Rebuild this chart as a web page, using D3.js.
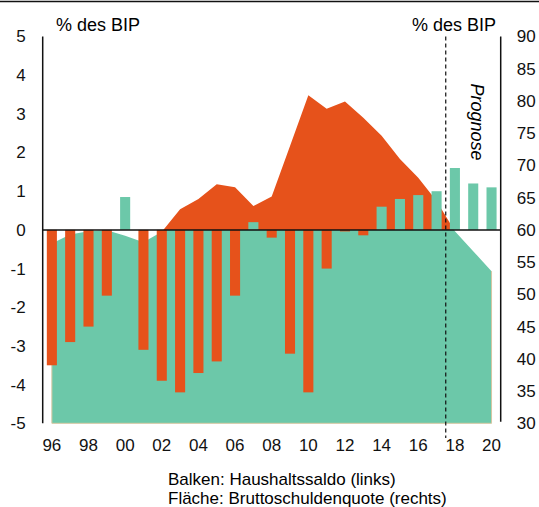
<!DOCTYPE html>
<html>
<head>
<meta charset="utf-8">
<script src="https://cdn.jsdelivr.net/npm/d3@7"></script>
<style>
    body { margin: 0; background: #fff; }
    svg { display: block; font-family: 'Liberation Sans', Arial, sans-serif; }
    .ticklabel { font-size: 17px; fill: #111; }
</style>
</head>
<body>
<div id="chart"></div>
<script>
'use strict';
// Haushaltssaldo (bars, left axis) and Bruttoschuldenquote (area, right axis)
const years = d3.range(1996, 2021)
const saldo = [-3.5, -2.9, -2.5, -1.7, 0.85, -3.1, -3.9, -4.2, -3.7, -3.4, -1.7, 0.2, -0.2,
    -3.2, -4.2, -1.0, -0.04, -0.14, 0.6, 0.8, 0.9, 1.0, 1.6, 1.2, 1.1]
const schulden = [57.9, 59.3, 59.8, 59.95, 59.1, 58.1, 59.7, 63.2, 64.8, 67.1, 66.6, 63.7, 65.2,
    73.0, 80.9, 78.8, 79.9, 77.4, 74.6, 71.0, 68.1, 64.5, 59.8, 56.7, 53.6]
const leftTicks = [-5, -4, -3, -2, -1, 0, 1, 2, 3, 4, 5]
const rightTicks = [30, 35, 40, 45, 50, 55, 60, 65, 70, 75, 80, 85, 90]
const xLabelYears = d3.range(1996, 2021, 2)
const prognoseFrom = 2018

const orange = '#e6521b'
const green = '#6cc8a9'

const W = 539, H = 507
const plot = { left: 42.7, right: 500.7, top: 36.5, bottom: 423.3 }

const svg = d3.select('#chart').append('svg')
    .attr('width', W)
    .attr('height', H)

const x = d3.scaleBand()
    .domain(years)
    .range([plot.left, plot.right])
    .paddingInner(0.45)
    .paddingOuter(0.225)
const xc = d => x(d) + x.bandwidth() / 2
const yL = d3.scaleLinear().domain([-5, 5]).range([plot.bottom, plot.top])
const yR = d3.scaleLinear().domain([30, 90]).range([plot.bottom, plot.top])

const areaData = years.map((yr, i) => ({ yr: yr, v: schulden[i] }))
const barData = years.map((yr, i) => ({ yr: yr, v: saldo[i] }))

const defs = svg.append('defs')
defs.append('clipPath').attr('id', 'below') // green part below 60 %
    .append('rect')
    .attr('x', 0).attr('y', yL(0)).attr('width', W).attr('height', H)
defs.append('clipPath').attr('id', 'above') // orange part above 60 %
    .append('rect')
    .attr('x', 0).attr('y', 0).attr('width', W).attr('height', yL(0))

const area = d3.area()
    .x(d => xc(d.yr))
    .y0(yR(30))
    .y1(d => yR(d.v))

svg.append('path').datum(areaData) // Debt ratio area, lower part
    .attr('clip-path', 'url(#below)')
    .attr('fill', green)
    .attr('d', area)
svg.append('path').datum(areaData) // Debt ratio area, upper part
    .attr('clip-path', 'url(#above)')
    .attr('fill', orange)
    .attr('d', area)

const first = areaData[0], last = areaData[areaData.length - 1]
svg.append('path') // thin beige rim on sides and bottom of the area
    .attr('fill', 'none')
    .attr('stroke', '#d6c7a2')
    .attr('stroke-width', 1)
    .attr('d', d3.line()([
        [xc(first.yr), yR(first.v)], [xc(first.yr), yR(30)],
        [xc(last.yr), yR(30)], [xc(last.yr), yR(last.v)]
    ]))

svg.append('g').selectAll('rect') // Budget balance bars
    .data(barData).enter().append('rect')
    .attr('x', d => x(d.yr))
    .attr('width', x.bandwidth())
    .attr('y', d => yL(Math.max(0, d.v)))
    .attr('height', d => Math.abs(yL(d.v) - yL(0)))
    .attr('fill', d => d.v >= 0 ? green : orange)

svg.append('line') // zero line
    .attr('x1', plot.left).attr('x2', plot.right)
    .attr('y1', yL(0)).attr('y2', yL(0))
    .attr('stroke', '#111').attr('stroke-width', 1.5)
svg.append('line') // left axis line
    .attr('x1', plot.left).attr('x2', plot.left)
    .attr('y1', plot.top).attr('y2', plot.bottom)
    .attr('stroke', '#111').attr('stroke-width', 1.5)
svg.append('line') // right axis line
    .attr('x1', plot.right).attr('x2', plot.right)
    .attr('y1', plot.top).attr('y2', plot.bottom - 1.5)
    .attr('stroke', '#111').attr('stroke-width', 1.5)

const xSplit = (xc(prognoseFrom - 1) + xc(prognoseFrom)) / 2
svg.append('line') // forecast divider
    .attr('x1', xSplit).attr('x2', xSplit)
    .attr('y1', plot.top).attr('y2', 438)
    .attr('stroke', '#111').attr('stroke-width', 1.2)
    .attr('stroke-dasharray', '4,3')

const leftAxis = svg.append('g')
    .attr('transform', `translate(${plot.left},0)`)
    .call(d3.axisLeft(yL).tickValues(leftTicks).tickSize(0).tickPadding(17)
        .tickFormat(d => String(d)))
const rightAxis = svg.append('g')
    .attr('transform', `translate(${plot.right},0)`)
    .call(d3.axisRight(yR).tickValues(rightTicks).tickSize(0).tickPadding(16))
const bottomAxis = svg.append('g')
    .attr('transform', `translate(0,${plot.bottom + 16})`)
    .call(d3.axisBottom(x).tickValues(xLabelYears).tickSize(0).tickPadding(0)
        .tickFormat(d => String(d).slice(2)))
;[leftAxis, rightAxis, bottomAxis].forEach(g => {
    g.select('.domain').remove()
    g.selectAll('text').attr('class', 'ticklabel').attr('font-family', null).attr('font-size', null)
})

svg.append('line') // top rule
    .attr('x1', 0).attr('x2', W)
    .attr('y1', 1.5).attr('y2', 1.5)
    .attr('stroke', '#111').attr('stroke-width', 1.5)

svg.append('text') // left unit label
    .attr('x', 56).attr('y', 30.5)
    .style('font-size', '18px')
    .text('% des BIP')
svg.append('text') // right unit label
    .attr('x', 496).attr('y', 30.5)
    .style('font-size', '18px')
    .style('text-anchor', 'end')
    .text('% des BIP')

svg.append('text') // Prognose label
    .attr('transform', `translate(470.5, 122) rotate(90)`)
    .style('font-size', '18px')
    .style('font-style', 'italic')
    .style('text-anchor', 'middle')
    .text('Prognose')

svg.append('text') // legend lines
    .attr('x', 168).attr('y', 484.5)
    .style('font-size', '17px')
    .text('Balken: Haushaltssaldo (links)')
svg.append('text')
    .attr('x', 168).attr('y', 503.5)
    .style('font-size', '17px')
    .text('Fläche: Bruttoschuldenquote (rechts)')
</script>
</body>
</html>
